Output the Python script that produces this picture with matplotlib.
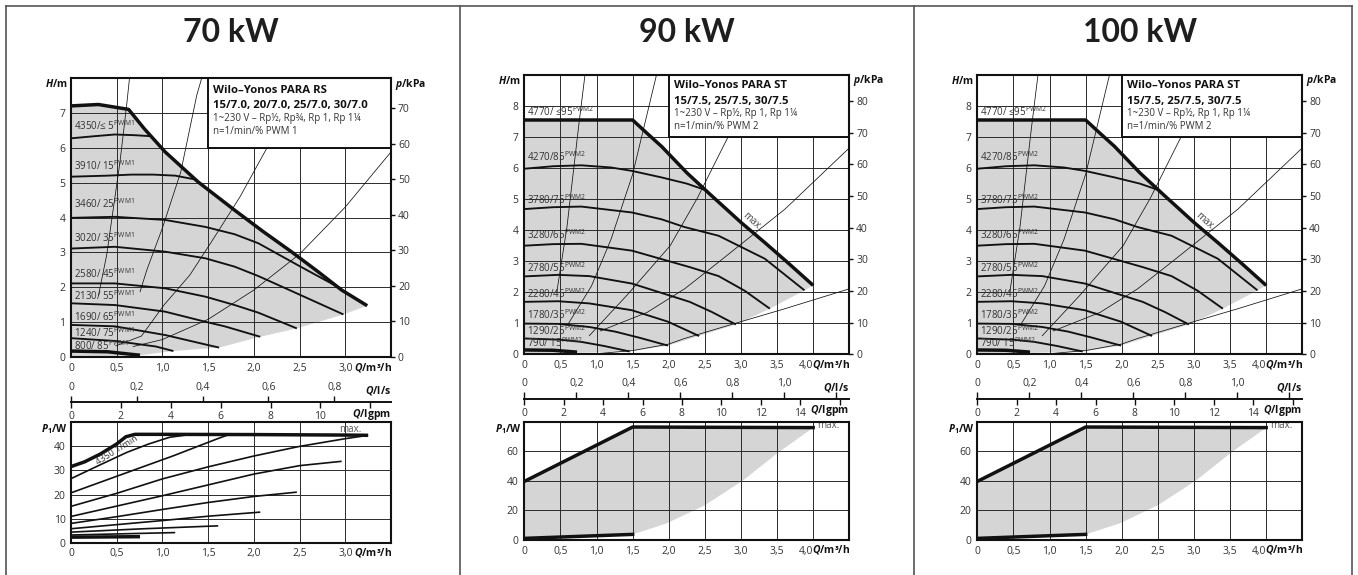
import numpy as np
import matplotlib.pyplot as plt
from matplotlib.patches import Rectangle
from matplotlib.lines import Line2D

plt.rcParams['font.family'] = ['Open Sans', 'DejaVu Sans']
plt.rcParams['mathtext.fontset'] = 'custom'
plt.rcParams['mathtext.it'] = 'Open Sans:italic:bold'
plt.rcParams['mathtext.bf'] = 'Open Sans:bold'
plt.rcParams['mathtext.rm'] = 'Open Sans'

W, H = 1358, 575
fig = plt.figure(figsize=(W / 100, H / 100), dpi=100)

# ---------------- 70 kW : Wilo-Yonos PARA RS .../7.0 ----------------
titles = ['70 kW', '90 kW', '100 kW']

h70_max_q = [0, 0.3, 0.63, 0.8, 1.03, 1.39, 1.79, 2.1, 2.41, 2.7, 2.96, 3.24]
h70_max_h = [7.2, 7.24, 7.1, 6.55, 5.88, 5.02, 4.21, 3.6, 3.02, 2.45, 1.92, 1.47]
h70_q = [
    [0, 0.25, 0.48, 0.7, 0.88],
    [0, 0.4, 0.66, 0.9, 1.14, 1.38],
    [0, 0.48, 1.03, 1.47, 1.79, 2.05, 2.49, 2.96],
    [0, 0.48, 1.03, 1.47, 1.79, 2.05, 2.49, 2.98],
    [0, 0.48, 1.03, 1.47, 1.79, 2.05, 2.47],
    [0, 0.48, 1.03, 1.47, 1.68, 2.07],
    [0, 0.48, 1.03, 1.47, 1.62],
    [0, 0.48, 0.93, 1.12],
    [0, 0.4, 0.755],
]
h70_h = [
    [6.27, 6.33, 6.38, 6.36, 6.33],
    [5.17, 5.2, 5.23, 5.23, 5.2, 5.08],
    [3.99, 4.02, 3.93, 3.73, 3.52, 3.26, 2.62, 1.95],
    [3.11, 3.16, 3.02, 2.83, 2.59, 2.32, 1.8, 1.22],
    [2.11, 2.11, 1.97, 1.73, 1.49, 1.27, 0.82],
    [1.54, 1.49, 1.3, 1.01, 0.88, 0.58],
    [0.92, 0.88, 0.63, 0.36, 0.27],
    [0.54, 0.46, 0.3, 0.17],
    [0.17, 0.15, 0.05],
]
h70_low_q = [0, 0.755, 1.12, 1.62, 2.07, 2.47, 2.98, 3.24]
h70_low_h = [0, 0.05, 0.17, 0.27, 0.58, 0.82, 1.22, 1.47]
sys70_q = [
    [0.3, 0.39, 0.536, 0.61, 0.64],
    [0.755, 0.83, 1.0, 1.2, 1.375, 1.43],
    [0.49, 0.77, 1.02, 1.3, 1.56, 1.85, 2.14],
    [0.68, 1.0, 1.5, 2.0, 2.5, 3.0, 3.5],
]
sys70_h = [
    [1.76, 2.92, 5.6, 7.25, 8.0],
    [1.87, 2.5, 3.7, 5.3, 7.5, 8.0],
    [0.32, 0.6, 1.5, 2.35, 3.4, 4.6, 5.98],
    [0.3, 0.5, 1.08, 1.92, 2.95, 4.3, 5.88],
]
lab70 = ['4350/≤ 5', '3910/ 15', '3460/ 25', '3020/ 35', '2580/ 45',
         '2130/ 55', '1690/ 65', '1240/ 75', '800/ 85']
lab70_h = [6.52, 5.36, 4.26, 3.3, 2.27, 1.63, 1.03, 0.56, 0.2]
leg70 = ['Wilo–Yonos PARA RS', '15/7.0, 20/7.0, 25/7.0, 30/7.0',
         '1~230 V – Rp½, Rp¾, Rp 1, Rp 1¼', 'n=1/min/% PWM 1']

p70_q = [
    [0, 0.15, 0.32, 0.5, 0.6, 0.7, 1.0, 2.0, 3.0, 3.25],
    [0, 0.3, 0.61, 0.85, 1.08, 1.3],
    [0, 0.61, 1.12, 1.59, 1.72],
    [0, 0.5, 1.0, 1.5, 2.0, 2.5, 3.0, 3.25],
    [0, 0.5, 1.0, 1.5, 2.0, 2.5, 2.96],
    [0, 0.5, 1.0, 1.5, 2.0, 2.47],
    [0, 0.5, 1.0, 1.5, 2.07],
    [0, 0.8, 1.61],
    [0, 1.14],
    [0, 0.755],
]
p70_p = [
    [31.6, 33.6, 36.8, 41.0, 44.0, 45.0, 45.0, 44.9, 44.7, 44.6],
    [26.6, 32.0, 37.5, 41.0, 43.8, 44.9],
    [20.7, 29.1, 36.1, 43.0, 44.8],
    [15.1, 20.5, 26.5, 31.5, 36.0, 40.0, 43.2, 44.6],
    [10.9, 15.2, 19.5, 24.0, 28.5, 32.0, 33.8],
    [8.0, 10.8, 13.8, 16.7, 19.2, 21.0],
    [5.8, 7.5, 9.2, 11.0, 12.7],
    [4.4, 5.8, 7.0],
    [3.2, 4.2],
    [2.3, 2.5],
]

# ---------------- 90 / 100 kW : Wilo-Yonos PARA ST .../7.5 ----------------
h90_max_q = [0, 1.5, 1.7, 1.9, 2.25, 2.57, 3.0, 3.33, 3.65, 4.0]
h90_max_h = [7.55, 7.55, 7.12, 6.7, 5.85, 5.16, 4.25, 3.6, 2.95, 2.22]
h90_q = [
    [0, 0.4, 0.79, 1.2, 1.49, 1.9, 2.25, 2.5],
    [0, 0.4, 0.79, 1.49, 1.9, 2.22, 2.69, 3.33, 3.88],
    [0, 0.4, 0.79, 1.49, 2.29, 2.69, 3.05, 3.4],
    [0, 0.47, 0.9, 1.49, 2.29, 2.6, 2.93],
    [0, 0.47, 0.9, 1.49, 1.99, 2.42],
    [0, 0.47, 0.9, 1.26, 1.6, 1.99],
    [0, 0.5, 0.79, 1.1, 1.46],
    [0, 0.4, 0.73],
]
h90_h = [
    [5.98, 6.06, 6.09, 6.02, 5.91, 5.7, 5.5, 5.3],
    [4.68, 4.74, 4.76, 4.57, 4.35, 4.1, 3.82, 3.08, 2.06],
    [3.5, 3.55, 3.56, 3.34, 2.81, 2.52, 2.05, 1.47],
    [2.51, 2.56, 2.52, 2.28, 1.69, 1.36, 0.96],
    [1.69, 1.71, 1.64, 1.42, 1.05, 0.59],
    [0.99, 0.98, 0.88, 0.73, 0.53, 0.28],
    [0.51, 0.47, 0.4, 0.27, 0.09],
    [0.14, 0.13, 0.07],
]
h90_low_q = [0, 0.73, 1.46, 1.99, 2.42, 2.93, 3.4, 3.88, 4.0]
h90_low_h = [0, 0.05, 0.09, 0.28, 0.59, 0.96, 1.47, 2.06, 2.22]
sys90_q = [
    [0.45, 0.49, 0.59, 0.75, 0.84],
    [0.6, 0.93, 1.2, 1.5, 1.83],
    [0.9, 1.42, 2.02, 2.4, 2.82],
    [1.05, 1.7, 2.22, 2.69, 3.61, 4.5],
    [0.9, 1.5, 2.0, 2.22, 2.91, 3.61, 4.5],
]
sys90_h = [
    [2.0, 2.6, 4.09, 7.3, 9.0],
    [0.95, 2.2, 3.7, 5.8, 9.0],
    [0.6, 1.9, 3.5, 5.05, 7.0],
    [0.75, 1.35, 2.11, 2.97, 4.68, 6.65],
    [0.0, 0.12, 0.33, 0.51, 0.99, 1.47, 2.11],
]
lab90 = ['4770/ ≤95', '4270/85', '3780/75', '3280/65', '2780/55',
         '2280/45', '1780/35', '1290/25', '790/ 15']
lab90_h = [7.67, 6.23, 4.84, 3.7, 2.65, 1.81, 1.15, 0.62, 0.25]
leg90 = ['Wilo–Yonos PARA ST', '15/7.5, 25/7.5, 30/7.5',
         '1~230 V – Rp½, Rp 1, Rp 1¼', 'n=1/min/% PWM 2']

p90_max_q = [0, 1.5, 4.0]
p90_max_p = [39.6, 76.4, 76.0]
p90_min_q = [0, 1.5]
p90_min_p = [1.1, 3.8]
p90_low_q = [1.5, 1.97, 2.5, 3.03, 3.49, 4.0]
p90_low_p = [3.8, 11.2, 23.5, 40.3, 58.2, 76.0]

# axis scales
q70_ticks = [0, 0.5, 1.0, 1.5, 2.0, 2.5, 3.0]
q90_ticks = [0, 0.5, 1.0, 1.5, 2.0, 2.5, 3.0, 3.5, 4.0]
ls70_ticks = [0, 0.2, 0.4, 0.6, 0.8]
ls90_ticks = [0, 0.2, 0.4, 0.6, 0.8, 1.0, 1.2]
gpm70_ticks = [0, 2, 4, 6, 8, 10, 12]
gpm90_ticks = [0, 2, 4, 6, 8, 10, 12, 14, 16]

GREY = '#d5d5d5'
INK = '#111111'
TXT = '#333333'
GRID = '#2a2a2a'
FS = 7.5


def fmt(v):
    return '0' if v == 0 else f'{v:.1f}'.replace('.', ',')


def axes_px(l, t, r, b):
    return fig.add_axes([l / W, 1 - b / H, (r - l) / W, (b - t) / H])


def frame(ax, qmax, ymax, qticks, yticks, tight_end):
    ax.set_xlim(0, qmax)
    ax.set_ylim(0, ymax)
    ax.set_xticks(qticks, [fmt(v) for v in qticks])
    ax.set_yticks(yticks, [str(v) for v in yticks])
    ax.grid(True, color=GRID, lw=0.7)
    ax.tick_params(length=0, labelsize=FS, labelcolor=TXT, pad=4)
    if tight_end:
        last = ax.get_xticklabels()[-1]
        last.set_ha('right')
    for s in ax.spines.values():
        s.set_linewidth(1.5)
        s.set_color(INK)
        s.set_zorder(6)
    ax.annotate(r'$\mathit{Q}$/m³/h', xy=(1, 0), xycoords='axes fraction',
                xytext=(1, -10), textcoords='offset pixels', ha='right',
                va='center', fontsize=7.5, fontweight='bold', color=INK)


def h_chart(rect, qmax, hmax, qticks, hticks, kpa, mq, mh, cq, ch, lq, lh,
            sq, sh, labels, lab_h, sup, legend, box_q, box_h, offs, tight_end):
    ax = axes_px(*rect)
    frame(ax, qmax, hmax, qticks, hticks, tight_end)
    ax.fill(mq + lq[::-1], mh + lh[::-1], color=GREY, lw=0, zorder=1)
    for q, h in zip(sq, sh):
        ax.plot(q, h, color=INK, lw=0.55, zorder=2)
    for i, (q, h) in enumerate(zip(cq, ch)):
        thick = i == len(cq) - 1
        ax.plot(q, h, color=INK, lw=2.5 if thick else 1.35, zorder=3,
                solid_capstyle='butt')
    ax.plot(mq, mh, color=INK, lw=2.5, zorder=3, solid_capstyle='butt')
    for t, y in zip(labels, lab_h):
        ax.annotate(t + r'$^{\mathregular{' + sup + '}}$', xy=(0, y),
                    xytext=(3, 0), textcoords='offset pixels', fontsize=7,
                    color=TXT, va='baseline', zorder=4)
    ax.add_patch(Rectangle((box_q, box_h), qmax - box_q, hmax - box_h,
                           fc='white', ec=INK, lw=1.4, zorder=5))
    for i, line in enumerate(legend):
        ax.annotate(line, xy=(box_q, hmax), xytext=(5, -offs[i]),
                    textcoords='offset pixels', va='baseline',
                    fontsize=8.2 if i < 2 else 7,
                    fontweight='bold' if i < 2 else 'normal',
                    color=INK if i < 2 else TXT, zorder=6)
    sec = ax.secondary_yaxis('right', functions=(lambda h: h * 9.81,
                                                 lambda p: p / 9.81))
    sec.set_yticks(kpa, [str(v) for v in kpa])
    sec.tick_params(direction='out', length=3, width=1, pad=2,
                    labelsize=FS, labelcolor=TXT, color=INK)
    sec.spines['right'].set_visible(False)
    ax.annotate(r'$\mathit{H}$/m', xy=(0, 1), xycoords='axes fraction',
                xytext=(-3, -6), textcoords='offset pixels', ha='right',
                va='center', fontsize=7.5, fontweight='bold', color=INK)
    ax.annotate(r'$\mathit{p}$/kPa', xy=(1, 1), xycoords='axes fraction',
                xytext=(4, -6), textcoords='offset pixels', ha='left',
                va='center', fontsize=7.5, fontweight='bold', color=INK)
    return ax


def q_scale(l, r, y, qmax, ls, ls_n, gpm, gpm_n):
    qa = fig.add_axes([l / W, 1 - y / H, (r - l) / W, 0.5 / H])
    qa.set_xlim(0, qmax)
    qa.set_xticks([])
    qa.set_yticks([])
    for s in ('top', 'left', 'right'):
        qa.spines[s].set_visible(False)
    qa.spines['bottom'].set_linewidth(1.4)
    qa.spines['bottom'].set_color(INK)
    top = qa.secondary_xaxis('top', functions=(lambda q: q / 3.6,
                                               lambda s: s * 3.6))
    top.set_xticks(ls, [fmt(v) if i < ls_n else '' for i, v in enumerate(ls)])
    bot = qa.secondary_xaxis('bottom', functions=(lambda q: q * 3.666,
                                                  lambda g: g / 3.666))
    bot.set_xticks(gpm, [str(v) if i < gpm_n else '' for i, v in enumerate(gpm)])
    for a, side in ((top, 'top'), (bot, 'bottom')):
        a.spines[side].set_visible(False)
        a.tick_params(direction='out', length=4, width=1, pad=2.5,
                      labelsize=FS, labelcolor=TXT, color=INK)
    qa.annotate(r'$\mathit{Q}$/l/s', xy=(1, 0), xycoords='axes fraction',
                xytext=(0, 12), textcoords='offset pixels', ha='right',
                va='center', fontsize=7.5, fontweight='bold', color=INK)
    qa.annotate(r'$\mathit{Q}$/Igpm', xy=(1, 0), xycoords='axes fraction',
                xytext=(0, -12), textcoords='offset pixels', ha='right',
                va='center', fontsize=7.5, fontweight='bold', color=INK)


def p_chart(rect, qmax, pmax, qticks, pticks, tight_end):
    ax = axes_px(*rect)
    frame(ax, qmax, pmax, qticks, pticks, tight_end)
    ax.annotate(r'$\mathit{P}_{\mathbf{1}}$/W', xy=(0, 1), xycoords='axes fraction',
                xytext=(-3, -7), textcoords='offset pixels', ha='right',
                va='center', fontsize=7.5, fontweight='bold', color=INK)
    return ax


# ---------------- 70 kW panel ----------------
h_chart((71, 78, 391, 357), 3.5, 8, q70_ticks, list(range(8)),
        list(range(0, 71, 10)), h70_max_q, h70_max_h, h70_q, h70_h,
        h70_low_q, h70_low_h, sys70_q, sys70_h, lab70, lab70_h, 'PWM1',
        leg70, 1.5, 6.0, [15, 30, 43, 56], False)
q_scale(71, 391, 402.3, 3.5, ls70_ticks, 5, gpm70_ticks, 6)
pa = p_chart((71, 422.3, 391, 542.7), 3.5, 50, q70_ticks, [0, 10, 20, 30, 40],
             False)
for i, (q, p) in enumerate(zip(p70_q, p70_p)):
    thick = i in (0, len(p70_q) - 1)
    pa.plot(q, p, color=INK, lw=2.5 if thick else 1.2, zorder=3,
            solid_capstyle='butt')
pa.text(0.5, 38.2, '4350 1/min', rotation=32, fontsize=6.5, color=TXT,
        ha='center', va='center', zorder=4)
pa.text(3.05, 47.2, 'max.', fontsize=7, color='#555555', ha='center',
        va='center', zorder=4)

# ---------------- 90 kW and 100 kW panels ----------------
for dx in (0, 453):
    ha = h_chart((524.3 + dx, 75, 849.3 + dx, 354.3), 4.5, 9, q90_ticks,
                 list(range(9)), list(range(0, 81, 10)), h90_max_q, h90_max_h,
                 h90_q, h90_h, h90_low_q, h90_low_h, sys90_q, sys90_h,
                 lab90, lab90_h, 'PWM2', leg90, 2.0, 7.0, [13, 29, 41, 54],
                 True)
    ha.text(3.15, 4.28, 'max.', rotation=-42, fontsize=7, color='#444444',
            ha='center', va='center', zorder=4)
    q_scale(524.3 + dx, 849.3 + dx, 399, 4.5, ls90_ticks, 6, gpm90_ticks, 8)
    pb = p_chart((524.3 + dx, 421.7, 849.3 + dx, 540), 4.5, 80, q90_ticks,
                 [0, 20, 40, 60], True)
    pb.fill(p90_max_q + p90_low_q[::-1] + p90_min_q[::-1],
            p90_max_p + p90_low_p[::-1] + p90_min_p[::-1],
            color=GREY, lw=0, zorder=1)
    pb.plot(p90_max_q, p90_max_p, color=INK, lw=2.5, zorder=3)
    pb.plot(p90_min_q, p90_min_p, color=INK, lw=2.5, zorder=3)
    pb.text(4.05, 77.3, 'max.', fontsize=7, color='#555555', ha='left',
            va='center', zorder=4)

# ---------------- table frame and titles ----------------
for xc, t in zip([231, 686.8, 1140], titles):
    fig.text(xc / W, 1 - 33 / H, t, ha='center', va='center', fontsize=23,
             fontweight='bold', family='Lato', color='#1e1e1e')
fig.add_artist(Line2D([6 / W, 1352 / W], [1 - 6 / H] * 2, color='#555555', lw=1.2))
for xv in (6, 460, 914, 1352):
    fig.add_artist(Line2D([xv / W] * 2, [0, 1 - 6 / H], color='#555555', lw=1.2))

fig.savefig('out.png', dpi=100, facecolor='white')
